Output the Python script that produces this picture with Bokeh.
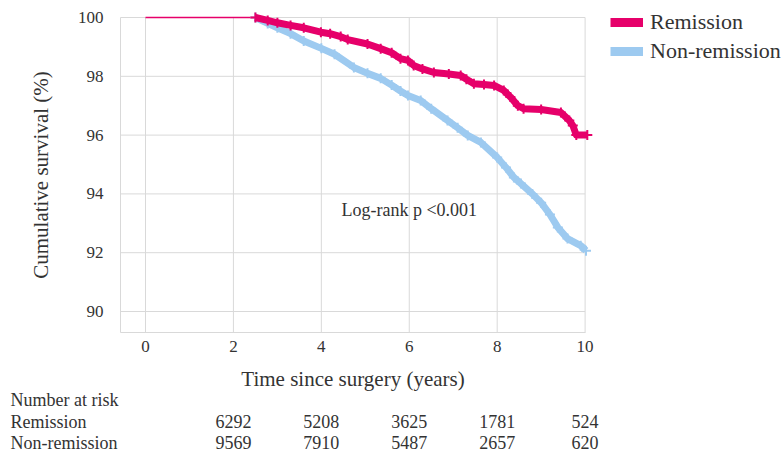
from bokeh.plotting import figure
from bokeh.models import Range1d, FixedTicker, Label, Legend, LegendItem
from bokeh.core.properties import value
from bokeh.embed import file_html
from bokeh.resources import INLINE

# ---- data ----
x_ticks = [0, 2, 4, 6, 8, 10]
y_ticks = [90, 92, 94, 96, 98, 100]

rem_t = [2.5, 2.78, 3.0, 3.3, 3.6, 3.99, 4.2, 4.44, 4.6, 5.05, 5.35, 5.6, 5.8, 5.97, 6.1, 6.3,
         6.56, 6.9, 7.17, 7.3, 7.47, 7.7, 7.93, 8.15, 8.3, 8.47, 8.6, 9.0, 9.45, 9.64, 9.72, 9.8, 10.05]
rem_s = [100, 99.9, 99.82, 99.73, 99.65, 99.5, 99.45, 99.35, 99.25, 99.1, 98.94, 98.8, 98.6, 98.54, 98.37, 98.25,
         98.13, 98.08, 98.03, 97.9, 97.75, 97.72, 97.69, 97.52, 97.3, 97.0, 96.9, 96.87, 96.77, 96.5, 96.33, 96.0, 96.0]

non_t = [2.5, 2.78, 3.0, 3.3, 3.6, 4.0, 4.3, 4.74, 5.05, 5.35, 5.6, 5.8, 5.97, 6.26, 6.5, 6.87, 7.1, 7.33,
         7.63, 8.0, 8.2, 8.38, 8.54, 8.8, 9.0, 9.2, 9.38, 9.6, 9.9, 10.02]
non_s = [100, 99.8, 99.65, 99.45, 99.2, 98.95, 98.75, 98.3, 98.1, 97.93, 97.7, 97.5, 97.35, 97.18, 96.9, 96.5, 96.25, 95.99,
         95.75, 95.24, 94.9, 94.56, 94.35, 94.0, 93.7, 93.3, 92.86, 92.48, 92.24, 92.07]

risk_times = [2, 4, 6, 8, 10]
risk_rem = [6292, 5208, 3625, 1781, 524]
risk_non = [9569, 7910, 5487, 2657, 620]
row_names = ["Number at risk", "Remission", "Non-remission"]

RED = "#E6006A"
BLUE = "#9DCAF0"
FONT = "'Liberation Serif', 'Times New Roman', serif"
TXT = "#333333"
GRID = "#d9d9d9"

W, H = 783, 452
PX_X = 43.96   # pixels per year
PX_Y = 29.4    # pixels per percent
X0_PX = 145    # pixel position of t = 0
Y100_PX = 17   # pixel position of 100 %

x_range = Range1d(-X0_PX / PX_X, (W - X0_PX) / PX_X)
y_range = Range1d(100 - (H - Y100_PX) / PX_Y, 100 + Y100_PX / PX_Y)

x_axis_at = 100 - (332 - Y100_PX) / PX_Y   # bottom of plotting area
y_axis_at = (120 - X0_PX) / PX_X           # left of plotting area

p = figure(width=W, height=H, x_range=x_range, y_range=y_range,
           output_backend="svg", toolbar_location=None,
           min_border_left=0, min_border_right=0, min_border_top=0, min_border_bottom=0)
p.outline_line_color = None
p.xgrid.visible = False
p.ygrid.visible = False

# grid lines bounded to the tick extent
p.segment(x0=x_ticks, y0=[x_axis_at] * len(x_ticks), x1=x_ticks, y1=[max(y_ticks)] * len(x_ticks),
          line_color=GRID, line_width=1)
p.segment(x0=[y_axis_at] * len(y_ticks), y0=y_ticks, x1=[max(x_ticks)] * len(y_ticks), y1=y_ticks,
          line_color=GRID, line_width=1)

# axes, fixed at the edges of the plotting area
xa, ya = p.xaxis[0], p.yaxis[0]
for ax in (xa, ya):
    ax.axis_line_color = GRID
    ax.major_tick_line_color = None
    ax.minor_tick_line_color = None
    ax.major_label_text_font = FONT
    ax.major_label_text_font_size = "17px"
    ax.major_label_text_color = TXT
    ax.axis_label_text_font = FONT
    ax.axis_label_text_font_size = "21px"
    ax.axis_label_text_font_style = "normal"
    ax.axis_label_text_color = TXT
xa.ticker = FixedTicker(ticks=x_ticks)
ya.ticker = FixedTicker(ticks=y_ticks)
xa.fixed_location = x_axis_at
ya.fixed_location = y_axis_at
xa.bounds = (y_axis_at, max(x_ticks))
ya.bounds = (x_axis_at, max(y_ticks))
xa.axis_label = "Time since surgery (years)"
ya.axis_label = "Cumulative survival (%)"
xa.major_label_standoff = 2
xa.axis_label_standoff = 12
ya.major_label_standoff = 11
ya.axis_label_standoff = 22

# curves
p.line(x=[0, rem_t[0]], y=[rem_s[0], rem_s[0]], line_color=RED, line_width=1.5)
p.line(x=non_t, y=non_s, line_color=BLUE, line_width=7, line_join="round")
p.scatter(x=non_t, y=non_s, marker="cross", size=10, line_color=BLUE, line_width=2)
p.line(x=rem_t, y=rem_s, line_color=RED, line_width=7, line_join="round")
p.scatter(x=rem_t, y=rem_s, marker="cross", size=10, line_color=RED, line_width=2)

# legend glyph renderers (undefined points, so nothing is drawn in the plot)
nan = float("nan")
lr = p.line(x=[nan, nan], y=[nan, nan], line_color=RED, line_width=9)
lb = p.line(x=[nan, nan], y=[nan, nan], line_color=BLUE, line_width=9)
legend = Legend(items=[LegendItem(label="Remission", renderers=[lr]),
                       LegendItem(label="Non-remission", renderers=[lb])],
                location=(610, 388), glyph_width=33, glyph_height=24, label_height=24,
                spacing=3, padding=0, margin=0, border_line_color=None, background_fill_alpha=0,
                label_text_font=FONT, label_text_font_size="22px", label_text_color=TXT,
                label_standoff=7)
p.add_layout(legend)

p.add_layout(Label(x=(341 - X0_PX) / PX_X, y=100 - (209 - Y100_PX) / PX_Y, text="Log-rank p <0.001",
                   text_font=FONT, text_font_size="18px", text_color=TXT,
                   text_align="left", text_baseline="middle"))

# number at risk table
row_y = [100 - (yy - Y100_PX) / PX_Y for yy in (399, 421, 442)]
left_x = (10 - X0_PX) / PX_X
p.text(x=[left_x] * 3, y=row_y, text=row_names, text_font=value(FONT), text_font_size="18px",
       text_color=TXT, text_align="left", text_baseline="middle")
p.text(x=risk_times, y=[row_y[1]] * len(risk_times), text=[str(v) for v in risk_rem],
       text_font=value(FONT), text_font_size="18px", text_color=TXT, text_align="center",
       text_baseline="middle")
p.text(x=risk_times, y=[row_y[2]] * len(risk_times), text=[str(v) for v in risk_non],
       text_font=value(FONT), text_font_size="18px", text_color=TXT, text_align="center",
       text_baseline="middle")

open("out.html", "w").write(file_html(p, INLINE))
